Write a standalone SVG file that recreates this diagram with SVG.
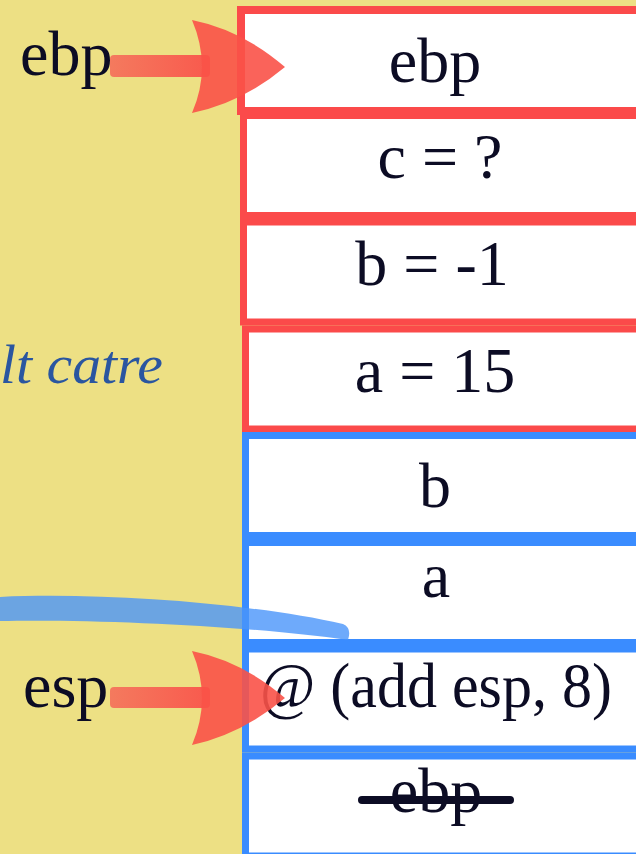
<svg xmlns="http://www.w3.org/2000/svg" width="636" height="854" viewBox="0 0 636 854">
<style>
.bg{fill:#ede084}
.red{fill:#ffffff;stroke:#fb4a4a;stroke-width:7}
.blue{fill:#ffffff;stroke:#3a8cff;stroke-width:7}
.t{font-family:"Liberation Serif","DejaVu Serif",serif;font-size:64px;fill:#0c0c24;text-anchor:middle}
.lbl{font-family:"Liberation Serif","DejaVu Serif",serif;font-size:64px;fill:#0c0c24}
.script{font-family:"Liberation Serif","DejaVu Serif",serif;font-style:italic;font-size:54px;fill:#2a56a0}
.head{fill:#f95248;opacity:0.9}
</style>
<defs>
<linearGradient id="shaft" x1="0" y1="0" x2="1" y2="0">
<stop offset="0" stop-color="#f47a5e"/>
<stop offset="1" stop-color="#f9594d"/>
</linearGradient>
</defs>
<rect class="bg" x="0" y="0" width="636" height="854"/>
<text class="script" x="0" y="383" textLength="163" lengthAdjust="spacingAndGlyphs">lt catre</text>
<g id="box-ebp"><rect class="red" x="241" y="10" width="400" height="101" style="stroke-width:8"/><text class="t" x="435" y="82">ebp</text></g>
<g id="box-c"><rect class="red" x="243.5" y="115.5" width="400" height="100"/><text class="t" x="440" y="178">c = ?</text></g>
<g id="box-b1"><rect class="red" x="243.5" y="222" width="400" height="100"/><text class="t" x="432" y="285">b = -1</text></g>
<g id="box-a15"><rect class="red" x="245.5" y="329" width="400" height="100"/><text class="t" x="435" y="392">a = 15</text></g>
<g id="box-b"><rect class="blue" x="245.5" y="435.5" width="400" height="100"/><text class="t" x="435" y="507">b</text></g>
<g id="box-a"><rect class="blue" x="245.5" y="542.5" width="400" height="100"/><text class="t" x="436" y="597">a</text></g>
<g id="box-ret"><rect class="blue" x="245.5" y="649" width="400" height="100"/><text class="t" x="436" y="707" textLength="352" lengthAdjust="spacingAndGlyphs">@ (add esp, 8)</text></g>
<g id="box-oldebp"><rect class="blue" x="245.5" y="756" width="400" height="100"/><text class="t" x="436" y="812">ebp</text><line x1="362" y1="800" x2="510" y2="800" stroke="#0c0c24" stroke-width="8" stroke-linecap="round"/></g>
<g id="label-ebp"><text class="lbl" x="20" y="75">ebp</text></g>
<g id="label-esp"><text class="lbl" x="23" y="707">esp</text></g>
<g id="connectors">
<path d="M -2,597 C 100,592 250,603 343,624 Q 352,628 348,640 C 250,626 100,619 -2,621 Z" fill="#4a95fa" opacity="0.8"/>
<rect x="110" y="55" width="100" height="22" rx="4" fill="url(#shaft)"/>
<path class="head" d="M 192,20 Q 242,30 285,67 Q 242,103 192,113 Q 212,67 192,20 Z"/>
<rect x="110" y="687" width="100" height="21" rx="4" fill="url(#shaft)"/>
<path class="head" d="M 192,651 Q 242,661 285,698 Q 242,734 192,745 Q 212,698 192,651 Z"/>
</g>
</svg>
